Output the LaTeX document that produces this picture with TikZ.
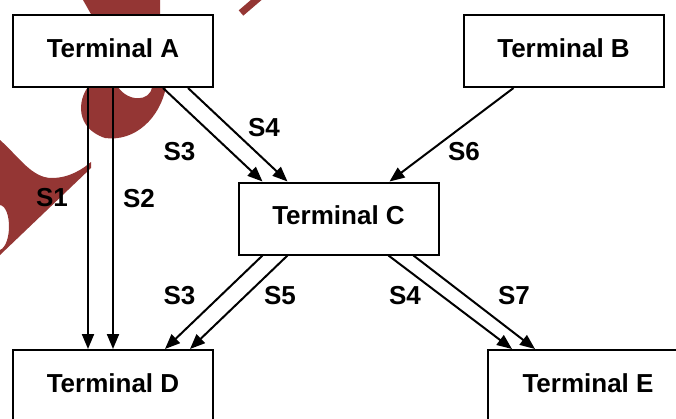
\documentclass[tikz,border=0pt]{standalone}
\usepackage{fontspec}
\setmainfont{Liberation Sans}
\usetikzlibrary{arrows.meta,positioning}
\definecolor{wmred}{HTML}{943634}

\begin{document}
\begin{tikzpicture}[x=1pt,y=-1pt,line width=2pt,>={Triangle[length=15pt,width=12pt]},
  term/.style={draw,fill=white,minimum width=200pt,minimum height=72pt,inner sep=0pt,text depth=6pt,font=\fontsize{26}{30}\selectfont\bfseries},
  lab/.style={inner sep=0pt,font=\fontsize{26}{30}\selectfont\bfseries}]
\clip (0,0) rectangle (676,418);
% watermark
\fill[wmred] (83,0) -- (143,0) -- (160,-10) -- (160,30) -- (100,30) -- cycle;
\fill[wmred] (88,87) .. controls (78,100) and (75,128) .. (105,138) .. controls (135,142) and (160,118) .. (166,87) -- (152,87) .. controls (150,102) and (128,102) .. (118,87) -- cycle;
\fill[wmred] (0,140) .. controls (20,158) and (32,178) .. (52,178) .. controls (70,178) and (84,168) .. (91,162) -- (91,168) -- (0,255) -- (0,250) .. controls (12,245) and (12,207) .. (0,205) -- cycle;
\draw[wmred,line width=7pt] (241,13) -- (262,-5);
\node[term] (a) at (113,51) {Terminal A};
\node[term] (b) at (563.5,51) {Terminal B};
\node[term] (c) at (338.5,218.5) {Terminal C};
\node[term] (d) at (113,386) {Terminal D};
\node[term] (e) at (588,386) {Terminal E};
\draw[->] ([xshift=-25pt]a.south) -- ([xshift=-25pt]d.north);
\draw[->] (a.south) -- (d.north);
\draw[->] ([xshift=50pt]a.south) -- ([xshift=-76pt]c.north);
\draw[->] ([xshift=75pt]a.south) -- ([xshift=-51pt]c.north);
\draw[->] ([xshift=-50pt]b.south) -- ([xshift=51pt]c.north);
\draw[->] ([xshift=-76pt]c.south) -- ([xshift=52pt]d.north);
\draw[->] ([xshift=-51pt]c.south) -- ([xshift=77pt]d.north);
\draw[->] ([xshift=50pt]c.south) -- ([xshift=-76pt]e.north);
\draw[->] ([xshift=75pt]c.south) -- ([xshift=-53pt]e.north);
% labels
\node[lab] (s1) at (52,198) {S1};
\node[lab] (s2) at (139,199) {S2};
\node[lab] (s3a) at (179.5,152) {S3};
\node[lab] (s4a) at (264,127.5) {S4};
\node[lab] (s6) at (464,152) {S6};
\node[lab] (s3b) at (179.5,295.5) {S3};
\node[lab] (s5) at (280,295.5) {S5};
\node[lab] (s4b) at (405,296) {S4};
\node[lab] (s7) at (514,296) {S7};
\end{tikzpicture}
\end{document}
